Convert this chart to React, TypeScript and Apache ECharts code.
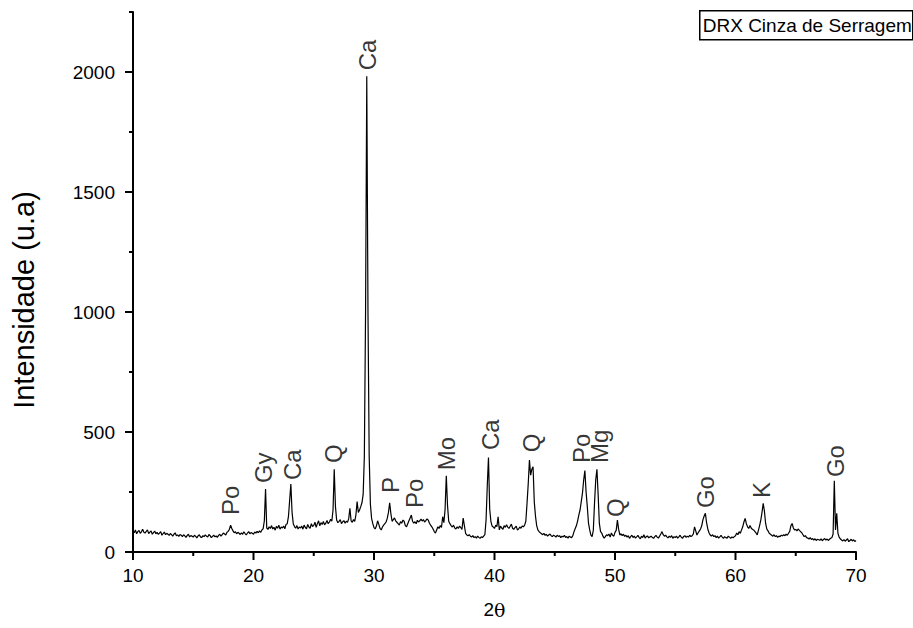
import React, { useEffect, useRef } from "react";
import * as echarts from "echarts";

// 2θ start and step of the scan (degrees)
const scanStart = 10;
const scanStep = 0.1;

// Intensity (u.a), one row per degree: 2θ = d.0 ... d.9
const intensity: number[] = [
  88, 80, 92, 76, 85, 90, 78, 84, 95, 82, // 10
  79, 86, 92, 77, 83, 88, 74, 81, 87, 76, // 11
  82, 73, 79, 85, 70, 77, 83, 72, 78, 74, // 12
  69, 77, 72, 66, 74, 80, 68, 71, 65, 73, // 13
  70, 64, 72, 67, 61, 69, 74, 63, 68, 66, // 14
  62, 70, 65, 59, 67, 72, 63, 60, 68, 64, // 15
  71, 66, 62, 73, 68, 60, 65, 70, 63, 67, // 16
  61, 69, 74, 66, 72, 79, 75, 71, 82, 86, // 17
  95, 112, 98, 88, 80, 84, 76, 82, 78, 73, // 18
  80, 74, 84, 77, 71, 79, 85, 76, 81, 78, // 19
  74, 83, 79, 86, 80, 88, 82, 92, 97, 130, // 20
  262, 100, 94, 105, 98, 110, 96, 103, 91, 107, // 21
  99, 112, 95, 104, 100, 108, 97, 115, 118, 147, // 22
  215, 283, 165, 118, 106, 99, 110, 96, 104, 100, // 23
  108, 95, 112, 102, 97, 115, 104, 99, 118, 106, // 24
  111, 124, 103, 118, 130, 109, 122, 115, 127, 113, // 25
  120, 131, 118, 125, 136, 128, 175, 345, 190, 133, // 26
  122, 128, 135, 118, 126, 131, 120, 128, 124, 138, // 27
  182, 130, 124, 135, 128, 155, 210, 165, 175, 189, // 28
  205, 240, 400, 1000, 1982, 1000, 400, 200, 140, 118, // 29
  102, 96, 108, 130, 115, 98, 92, 104, 112, 118, // 30
  125, 140, 165, 205, 160, 128, 135, 142, 130, 124, // 31
  118, 112, 126, 120, 133, 128, 110, 105, 118, 130, // 32
  142, 154, 128, 120, 126, 118, 132, 125, 130, 137, // 33
  129, 135, 125, 131, 138, 133, 120, 112, 105, 96, // 34
  85, 79, 92, 105, 98, 110, 102, 147, 122, 178, // 35
  318, 195, 128, 118, 110, 104, 112, 100, 96, 105, // 36
  98, 108, 102, 94, 141, 110, 78, 71, 68, 72, // 37
  66, 62, 68, 60, 64, 58, 66, 61, 57, 63, // 38
  60, 66, 72, 133, 275, 394, 180, 128, 108, 104, // 39
  98, 112, 106, 147, 92, 108, 100, 95, 110, 103, // 40
  113, 104, 98, 107, 116, 99, 94, 102, 108, 92, // 41
  96, 104, 99, 108, 105, 112, 128, 203, 285, 383, // 42
  320, 345, 355, 210, 150, 110, 92, 85, 80, 76, // 43
  72, 78, 69, 74, 66, 71, 75, 68, 64, 70, // 44
  67, 62, 70, 65, 68, 60, 66, 63, 69, 61, // 45
  64, 58, 66, 62, 60, 68, 85, 98, 110, 130, // 46
  155, 175, 210, 245, 300, 339, 250, 190, 120, 92, // 47
  70, 64, 90, 203, 300, 345, 240, 120, 85, 79, // 48
  66, 58, 64, 72, 68, 75, 62, 79, 70, 66, // 49
  82, 90, 133, 95, 71, 76, 68, 74, 65, 70, // 50
  62, 68, 57, 64, 70, 60, 66, 58, 63, 69, // 51
  61, 55, 66, 60, 72, 58, 64, 67, 59, 63, // 52
  66, 60, 57, 64, 69, 62, 58, 66, 75, 85, // 53
  72, 66, 70, 63, 59, 66, 61, 68, 57, 64, // 54
  60, 66, 58, 63, 70, 62, 57, 65, 68, 61, // 55
  66, 62, 70, 64, 68, 75, 105, 88, 71, 80, // 56
  88, 96, 110, 135, 150, 161, 122, 96, 80, 71, // 57
  66, 72, 64, 68, 60, 66, 58, 63, 69, 62, // 58
  57, 64, 60, 58, 66, 62, 57, 63, 59, 64, // 59
  68, 79, 72, 85, 78, 92, 105, 125, 140, 118, // 60
  105, 98, 110, 100, 95, 92, 86, 80, 71, 90, // 61
  110, 133, 165, 203, 170, 119, 95, 88, 78, 74, // 62
  70, 66, 72, 64, 68, 61, 66, 64, 70, 67, // 63
  72, 68, 74, 70, 78, 86, 110, 119, 100, 92, // 64
  94, 88, 96, 90, 85, 80, 72, 64, 68, 60, // 65
  58, 54, 60, 52, 56, 50, 55, 48, 53, 51, // 66
  49, 55, 47, 52, 56, 50, 54, 48, 53, 57, // 67
  60, 75, 297, 92, 161, 78, 62, 55, 50, 46, // 68
  52, 45, 50, 55, 43, 48, 53, 46, 51, 44, // 69
  48, // 70
];

// Phase annotations: 2θ of label, intensity at label start, text
const phaseX = [18.05, 20.85, 23.2, 26.68, 29.42, 31.41, 33.4, 35.98, 39.63, 43.03, 47.18, 48.75, 50.08, 57.47, 62.12, 68.26];
const phaseY = [154, 287, 300, 371, 2007, 246, 183, 341, 425, 416, 371, 371, 146, 183, 225, 312];
const phaseLabel = ["Po", "Gy", "Ca", "Q", "Ca", "P", "Po", "Mo", "Ca", "Q", "Po", "Mg", "Q", "Go", "K", "Go"];

// Axis scales and ticks
const xTicks = { min: 10, max: 70, interval: 10 };
const yTicks = { min: 0, max: 2250, interval: 250, labelEvery: 500 };
const xMajorTicks = [10, 20, 30, 40, 50, 60, 70];
const xMinorTicks = [15, 25, 35, 45, 55, 65];
const yMajorTicks = [0, 500, 1000, 1500, 2000];
const yMinorTicks = [250, 750, 1250, 1750, 2250];

const legendText = "DRX Cinza de Serragem";
const yName = "Intensidade (u.a)";

const FONT = 'Arial, "Liberation Sans", sans-serif';

export default function App() {
  const ref = useRef<HTMLDivElement>(null);
  useEffect(() => {
    if (!ref.current) return;
    const chart = echarts.init(ref.current, undefined, { renderer: "svg" });
    const trace = intensity.map((v, i) => [
      +(scanStart + i * scanStep).toFixed(2),
      v,
    ]);
    const labels = phaseX.map((x, i) => [x, phaseY[i], phaseLabel[i]]);
    const labelStyle = {
      color: "#000",
      fontSize: 19,
      fontFamily: FONT,
      textBorderWidth: 0,
      backgroundColor: "transparent",
      padding: 0,
    };
    const legendGraphic = {
      type: "group",
      left: 699,
      top: 10,
      children: [
        {
          type: "rect",
          shape: { x: 0, y: 0, width: 213, height: 29 },
          style: { fill: "#fff", stroke: "#000", lineWidth: 1.5 },
        },
        {
          type: "text",
          x: 3,
          y: 15,
          style: {
            text: legendText,
            font: `19px ${FONT}`,
            fill: "#000",
            verticalAlign: "middle",
            align: "left",
          },
        },
      ],
    };
    chart.setOption({
      animation: false,
      grid: { left: 133, right: 57, top: 12, bottom: 76, outerBoundsMode: "none" },
      xAxis: {
        type: "value",
        min: xTicks.min,
        max: xTicks.max,
        interval: xTicks.interval,
        name: "{a|2}{b|θ}",
        nameLocation: "middle",
        nameGap: 48,
        nameTextStyle: {
          rich: {
            a: { fontFamily: FONT, fontSize: 19, color: "#000" },
            b: { fontFamily: '"DejaVu Serif", "Liberation Serif", serif', fontSize: 19, color: "#000" },
          },
        },
        axisLine: { show: true, lineStyle: { color: "#000", width: 2 } },
        axisTick: { show: false },
        axisLabel: { ...labelStyle, margin: 14 },
        splitLine: { show: false },
      },
      yAxis: {
        type: "value",
        min: yTicks.min,
        max: yTicks.max,
        interval: yTicks.interval,
        name: yName,
        nameLocation: "middle",
        nameGap: 95,
        nameTextStyle: { color: "#000", fontSize: 29, fontFamily: FONT, padding: [0, 36, 0, 0] },
        axisLine: { show: true, lineStyle: { color: "#000", width: 2 } },
        axisTick: { show: false },
        axisLabel: {
          ...labelStyle,
          margin: 18,
          formatter: (v: number) => (v % yTicks.labelEvery === 0 ? String(v) : ""),
        },
        splitLine: { show: false },
      },
      series: [
        {
          type: "line",
          data: trace,
          showSymbol: false,
          symbol: "none",
          lineStyle: { color: "#000", width: 1.2 },
          z: 3,
        },
        {
          type: "scatter",
          data: labels,
          symbolSize: 1,
          itemStyle: { color: "rgba(0,0,0,0)" },
          silent: true,
          z: 4,
          label: {
            show: true,
            position: "inside",
            rotate: 90,
            align: "left",
            verticalAlign: "middle",
            color: "#000",
            fontSize: 24,
            fontFamily: FONT,
            formatter: (p: any) => p.data[2],
          },
        },
      ],
      graphic: [legendGraphic],
    });

    // Axis ticks, placed through the chart's own scales
    const tickLines: any[] = [];
    const addX = (v: number, len: number) => {
      const p = chart.convertToPixel({ gridIndex: 0 }, [v, yTicks.min]) as number[];
      tickLines.push({
        type: "line",
        silent: true,
        z: 1000,
        zlevel: 1,
        shape: { x1: p[0], y1: p[1], x2: p[0], y2: p[1] + len },
        style: { stroke: "#000", lineWidth: 2 },
      });
    };
    const addY = (v: number, len: number) => {
      const p = chart.convertToPixel({ gridIndex: 0 }, [xTicks.min, v]) as number[];
      tickLines.push({
        type: "line",
        silent: true,
        z: 1000,
        zlevel: 1,
        shape: { x1: p[0], y1: p[1], x2: p[0] - len, y2: p[1] },
        style: { stroke: "#000", lineWidth: 2 },
      });
    };
    xMajorTicks.forEach((v) => addX(v, 8));
    xMinorTicks.forEach((v) => addX(v, 4));
    yMajorTicks.forEach((v) => addY(v, 8));
    yMinorTicks.forEach((v) => addY(v, 4));
    chart.setOption({ graphic: [legendGraphic, ...tickLines] }, { replaceMerge: ["graphic"] });

    return () => chart.dispose();
  }, []);
  return <div ref={ref} style={{ width: 913, height: 628, position: "absolute", left: 0, top: 0 }} />;
}
